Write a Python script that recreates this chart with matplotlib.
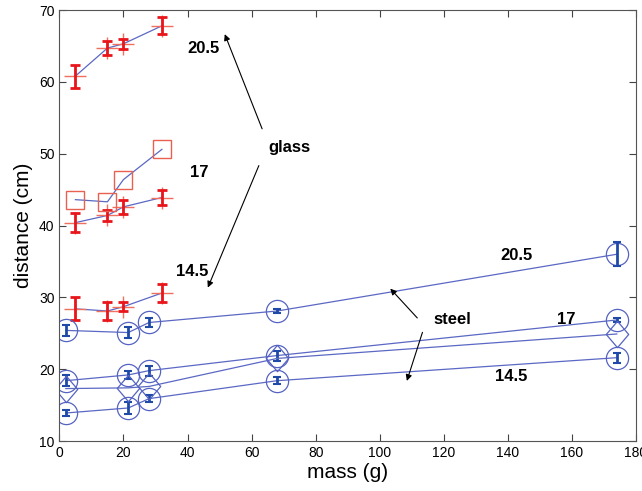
import matplotlib.pyplot as plt
import numpy as np

plt.rcParams['font.family'] = ['Liberation Sans', 'DejaVu Sans']

# glass balls (masses in g), three release heights
glass_mass = [5, 15, 20, 32]
glass_205 = [60.8, 64.7, 65.3, 67.8]
glass_205_err = [1.6, 1.0, 0.7, 1.2]
glass_17 = [40.4, 41.4, 42.6, 43.9]
glass_17_err = [1.3, 0.8, 1.0, 1.1]
glass_17_sq = [43.6, 43.3, 46.4, 50.6]
glass_145 = [28.4, 28.1, 28.7, 30.6]
glass_145_err = [1.6, 1.3, 0.6, 1.2]

# steel balls
steel_mass = [2, 21.5, 28, 68, 174]
steel_205 = [25.4, 25.1, 26.5, 28.1, 36.0]
steel_205_err = [0.75, 0.8, 0.6, 0.3, 1.7]
steel_17 = [18.4, 19.2, 19.8, 21.9, 26.85]
steel_17_err = [0.8, 0.6, 0.7, 0.7, 0.25]
steel_17_dia = [17.3, 17.4, 17.6, 21.5, 24.9]
steel_145 = [13.9, 14.6, 15.9, 18.4, 21.6]
steel_145_err = [0.4, 0.85, 0.5, 0.5, 0.7]

line_blue = '#5b68c4'
circ_blue = '#5563c2'
err_blue = '#1f4aa8'
err_red = '#e8151b'
plus_red = '#f07060'
sq_red = '#e8604f'

fig = plt.figure(figsize=(6.42, 4.91), dpi=100)
ax = fig.add_axes([0.0925, 0.1018, 0.8982, 0.8778])

# glass series: + markers with error bars
for y, e in [(glass_205, glass_205_err), (glass_17, glass_17_err),
             (glass_145, glass_145_err)]:
    ax.plot(glass_mass, y, color=line_blue, lw=0.9)
    ax.plot(glass_mass, y, ls='none', marker='+', ms=16, mew=1.0,
            color=plus_red)
    ax.errorbar(glass_mass, y, yerr=e, fmt='none', ecolor=err_red,
                elinewidth=2, capsize=3.5, capthick=2)

ax.plot(glass_mass, glass_17_sq, color=line_blue, lw=0.9)
ax.plot(glass_mass, glass_17_sq, ls='none', marker='s', ms=13, mew=1.0,
        mfc='none', mec=sq_red)

# steel series: circles with error bars
for y, e in [(steel_205, steel_205_err), (steel_17, steel_17_err),
             (steel_145, steel_145_err)]:
    ax.plot(steel_mass, y, color=line_blue, lw=0.9, marker='o', ms=16,
            mfc='none', mec=circ_blue, mew=0.9)
    ax.errorbar(steel_mass, y, yerr=e, fmt='none', ecolor=err_blue,
                elinewidth=2, capsize=3, capthick=1.5)

diamond = [(0, 1), (0.85, 0), (0, -1), (-0.85, 0), (0, 1)]
ax.plot(steel_mass, steel_17_dia, color=line_blue, lw=0.9, marker=diamond,
        ms=19, mfc='none', mec=circ_blue, mew=0.9)

# annotations
tkw = dict(fontsize=12, fontweight='bold', ha='center', va='center')
ax.text(45.1, 64.7, '20.5', **tkw)
ax.text(43.6, 47.4, '17', **tkw)
ax.text(41.4, 33.6, '14.5', **tkw)
ax.text(71.7, 50.8, 'glass', **tkw)
ax.text(142.7, 35.8, '20.5', **tkw)
ax.text(158.1, 26.85, '17', **tkw)
ax.text(141.1, 19.0, '14.5', **tkw)
ax.text(122.7, 26.85, 'steel', **tkw)

akw = dict(arrowstyle='-|>', color='black', lw=0.8, mutation_scale=9)
ax.annotate('', xy=(51.3, 67.0), xytext=(63.6, 53.1), arrowprops=akw)
ax.annotate('', xy=(46.0, 31.0), xytext=(62.6, 48.7), arrowprops=akw)
ax.annotate('', xy=(102.7, 31.5), xytext=(112.3, 26.85), arrowprops=akw)
ax.annotate('', xy=(108.2, 18.0), xytext=(113.6, 25.5), arrowprops=akw)

ax.set_xlim(0, 180)
ax.set_ylim(10, 70)
ax.set_xticks(np.arange(0, 181, 20))
ax.set_yticks(np.arange(10, 71, 10))
ax.tick_params(direction='in', top=True, right=True, length=5,
               labelsize=10, color='#444444')
for s in ax.spines.values():
    s.set_color('#555555')
ax.set_xlabel('mass (g)', fontsize=15, labelpad=2)
ax.set_ylabel('distance (cm)', fontsize=15, labelpad=4)

fig.savefig('out.png', dpi=100)
